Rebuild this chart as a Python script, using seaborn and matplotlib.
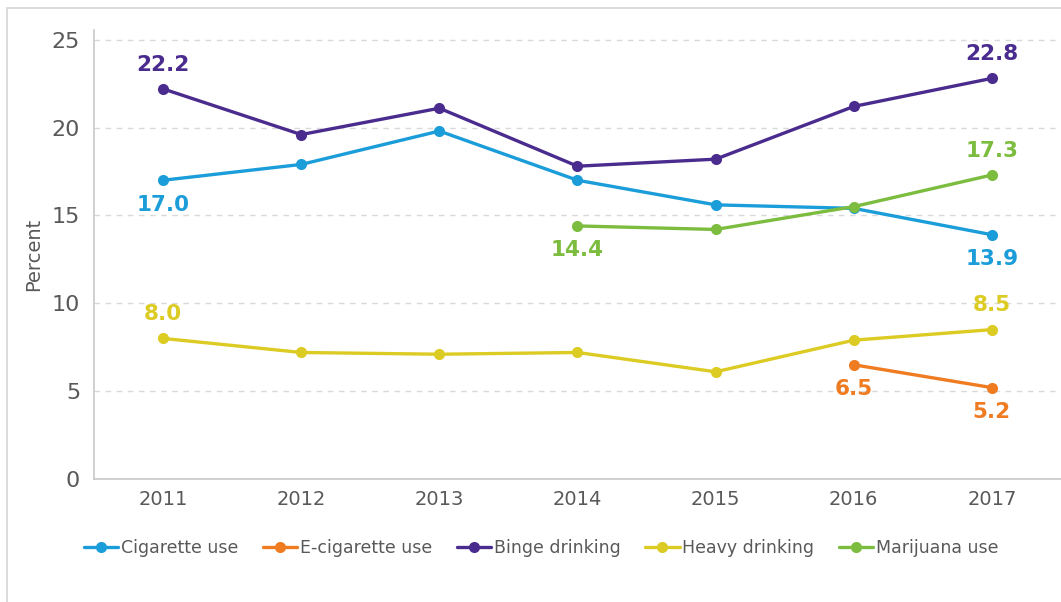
import matplotlib
matplotlib.use("Agg")
import matplotlib.pyplot as plt
import pandas as pd
import seaborn as sns
from matplotlib.patches import Rectangle

years = [2011, 2012, 2013, 2014, 2015, 2016, 2017]
cigarette = [17.0, 17.9, 19.8, 17.0, 15.6, 15.4, 13.9]
ecigarette = [None, None, None, None, None, 6.5, 5.2]
binge = [22.2, 19.6, 21.1, 17.8, 18.2, 21.2, 22.8]
heavy = [8.0, 7.2, 7.1, 7.2, 6.1, 7.9, 8.5]
marijuana = [None, None, None, 14.4, 14.2, 15.5, 17.3]

series_names = ["Cigarette use", "E-cigarette use", "Binge drinking", "Heavy drinking", "Marijuana use"]
series_vals = [cigarette, ecigarette, binge, heavy, marijuana]
colors = ["#1B9DD9", "#F07C22", "#4A2B8E", "#DCCB23", "#7CBC3F"]

# which points get a value label, and above (+) or below (-)
label_pos = {
    "Cigarette use": {2011: -1, 2017: -1},
    "E-cigarette use": {2016: -1, 2017: -1},
    "Binge drinking": {2011: 1, 2017: 1},
    "Heavy drinking": {2011: 1, 2017: 1},
    "Marijuana use": {2014: -1, 2017: 1},
}

rows = []
for name, vals in zip(series_names, series_vals):
    for yr, v in zip(years, vals):
        if v is not None:
            rows.append({"year": yr, "value": v, "series": name})
df = pd.DataFrame(rows)

sns.set_theme(style="white")
plt.rcParams["font.family"] = ["DejaVu Sans"]
text_col = "#595959"

fig = plt.figure(figsize=(10.61, 6.02), dpi=100)
ax = fig.add_axes([94 / 1061, 123 / 602, 1 - 94 / 1061, (479 - 30) / 602])

sns.lineplot(data=df, x="year", y="value", hue="series", hue_order=series_names,
             palette=colors, marker="o", markersize=8, markeredgewidth=0,
             linewidth=2.4, ax=ax)

for name, vals, c in zip(series_names, series_vals, colors):
    for yr, v in zip(years, vals):
        if yr in label_pos[name]:
            d = label_pos[name][yr]
            ax.annotate(f"{v:.1f}", (yr, v), xytext=(0, 17.5 * d), textcoords="offset points",
                        ha="center", va="center", color=c, fontsize=15.5, fontweight="bold")

ax.set_xlim(2010.5, 2017.5)
ax.set_ylim(0, 25.55)
ax.set_xticks(years)
ax.set_yticks([0, 5, 10, 15, 20, 25])
ax.tick_params(axis="x", length=0, labelsize=14, labelcolor=text_col, pad=8)
ax.tick_params(axis="y", length=0, labelsize=16, labelcolor=text_col, pad=10)
ax.set_xlabel("")
ax.set_ylabel("Percent", fontsize=14, color=text_col, labelpad=6)
ax.yaxis.grid(True, linestyle=(0, (4, 4)), color="#D9D9D9", linewidth=1)
ax.xaxis.grid(False)
for s in ["top", "right"]:
    ax.spines[s].set_visible(False)
for s in ["left", "bottom"]:
    ax.spines[s].set_color("#C8C8C8")
    ax.spines[s].set_linewidth(1.2)

handles, labels = ax.get_legend_handles_labels()
ax.get_legend().remove()
fig.legend(handles, labels, loc="center", bbox_to_anchor=(0.51, 0.09), ncol=5,
           frameon=False, fontsize=12.5, handlelength=2.0, handletextpad=0.15,
           columnspacing=1.4, labelcolor=text_col)

fig.patches.append(Rectangle((7 / 1061, -0.1), 1.2, 1.1 - 8 / 602, transform=fig.transFigure,
                             fill=False, edgecolor="#D6D6D6", linewidth=1.2))

fig.savefig("out.png", dpi=100)
